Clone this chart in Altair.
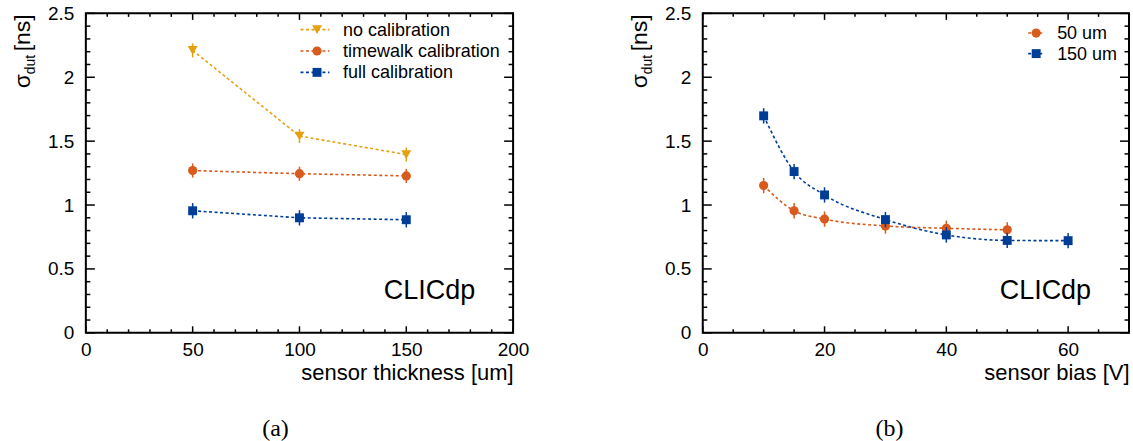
import altair as alt
import pandas as pd

FONT = "Liberation Sans"
SERIF = "Liberation Serif"

# ---------------- panel (a): sigma_dut vs sensor thickness ----------------
thickness_um = [50, 100, 150]
sigma_nocal = [2.21, 1.54, 1.395]
err_nocal = [0.055, 0.055, 0.055]
sigma_timewalk = [1.27, 1.245, 1.228]
err_timewalk = [0.055, 0.055, 0.055]
sigma_full = [0.955, 0.90, 0.885]
err_full = [0.06, 0.06, 0.06]
labels_a = ["no calibration", "timewalk calibration", "full calibration"]

# ---------------- panel (b): sigma_dut vs sensor bias ----------------
bias_50um = [10, 15, 20, 30, 40, 50]
sigma_50um = [1.152, 0.955, 0.89, 0.836, 0.818, 0.806]
err_50um = [0.06, 0.06, 0.06, 0.06, 0.06, 0.06]
bias_150um = [10, 15, 20, 30, 40, 50, 60]
sigma_150um = [1.698, 1.262, 1.079, 0.886, 0.766, 0.723, 0.721]
err_150um = [0.06, 0.06, 0.06, 0.06, 0.06, 0.06, 0.06]
labels_b = ["50 um", "150 um"]

# ---------------- tick positions ----------------
a_x_major = [0, 50, 100, 150, 200]
a_x_minor = [10, 20, 30, 40, 60, 70, 80, 90, 110, 120, 130, 140, 160, 170, 180, 190]
b_x_major = [0, 20, 40, 60]
b_x_minor = [5, 10, 15, 25, 30, 35, 45, 50, 55, 65]
y_major = [0, 0.5, 1, 1.5, 2, 2.5]
y_minor = [0.1, 0.2, 0.3, 0.4, 0.6, 0.7, 0.8, 0.9, 1.1, 1.2, 1.3, 1.4,
           1.6, 1.7, 1.8, 1.9, 2.1, 2.2, 2.3, 2.4]

GOLD = "#e5a00f"
ORANGE = "#d85a1d"
BLUE = "#003d96"

H = 320


def one_row(**kw):
    return pd.DataFrame({k: [v] for k, v in kw.items()} or {"k": [0]})


def panel(series, x_dom, x_major, x_minor, x_title, W, interp, legend, caption, caption_x, right_extra):
    xs = alt.Scale(domain=x_dom, nice=False, zero=False)
    ys = alt.Scale(domain=[0, 2.5], nice=False, zero=False)
    x_axis = alt.Axis(values=x_major, format="~r", ticks=False, domain=False, grid=False,
                      labelFont=FONT, labelFontSize=19, labelColor="black", labelPadding=8,
                      labelFlush=False, labelOverlap=False, title=x_title, titleFont=FONT,
                      titleFontSize=22, titleFontWeight="normal", titleColor="black",
                      titleAnchor="end", titlePadding=3)
    y_axis = alt.Axis(values=y_major, format="~r", ticks=False, domain=False, grid=False,
                      labelFont=FONT, labelFontSize=19, labelColor="black", labelPadding=12,
                      labelFlush=False, labelOverlap=False, title=None)

    def X(f):
        return alt.X(f, type="quantitative", scale=xs, axis=x_axis)

    def Y(f):
        return alt.Y(f, type="quantitative", scale=ys, axis=y_axis)

    layers = []
    # invisible extent so that the layout lands on the reference positions
    layers.append(alt.Chart(one_row(k=0)).mark_rule(strokeOpacity=0).encode(
        x=alt.value(-85), x2=alt.value(W + right_extra), y=alt.value(-12), y2=alt.value(429)))

    # inward ticks on all four sides
    ymaj = pd.DataFrame({"v": y_major})
    ymin = pd.DataFrame({"v": y_minor})
    xmaj = pd.DataFrame({"v": x_major})
    xmin = pd.DataFrame({"v": x_minor})
    for df, ln in ((ymaj, 9), (ymin, 4.5)):
        layers.append(alt.Chart(df).mark_rule(color="black", strokeWidth=1.5).encode(
            y=Y("v"), x=alt.value(0), x2=alt.value(ln)))
        layers.append(alt.Chart(df).mark_rule(color="black", strokeWidth=1.5).encode(
            y=Y("v"), x=alt.value(W - ln), x2=alt.value(W)))
    for df, ln in ((xmaj, 6.5), (xmin, 3.5)):
        layers.append(alt.Chart(df).mark_rule(color="black", strokeWidth=1.5).encode(
            x=X("v"), y=alt.value(H - ln), y2=alt.value(H)))
        layers.append(alt.Chart(df).mark_rule(color="black", strokeWidth=1.5).encode(
            x=X("v"), y=alt.value(0), y2=alt.value(ln)))

    # data series
    for name, xv, yv, ev, color, shape, size in series:
        df = pd.DataFrame({"x": xv, "y": yv, "e": ev})
        df["lo"] = df["y"] - df["e"]
        df["hi"] = df["y"] + df["e"]
        base = alt.Chart(df)
        layers.append(base.mark_line(color=color, strokeDash=[3, 2.5], strokeWidth=1.6,
                                     interpolate=interp).encode(x=X("x"), y=Y("y")))
        layers.append(base.mark_rule(color=color, strokeWidth=1.5).encode(
            x=X("x"), y=Y("lo"), y2="hi"))
        layers.append(base.mark_point(color=color, filled=True, opacity=1, shape=shape,
                                      size=size).encode(x=X("x"), y=Y("y")))

    # legend
    lx0, lx1, lmark, ltext, ly0, dy = legend
    for i, (name, xv, yv, ev, color, shape, size) in enumerate(series):
        yy = ly0 + i * dy
        d = one_row(label=name)
        layers.append(alt.Chart(d).mark_rule(color=color, strokeDash=[3, 2.5], strokeWidth=1.6).encode(
            x=alt.value(lx0), x2=alt.value(lx1), y=alt.value(yy)))
        layers.append(alt.Chart(d).mark_point(color=color, filled=True, opacity=1, shape=shape,
                                              size=size).encode(x=alt.value(lmark), y=alt.value(yy)))
        layers.append(alt.Chart(d).mark_text(align="left", baseline="middle", font=FONT, fontSize=18,
                                             color="black").encode(
            x=alt.value(ltext), y=alt.value(yy + 1), text="label:N"))

    # CLICdp label
    layers.append(alt.Chart(one_row(t="CLICdp")).mark_text(
        align="right", baseline="alphabetic", font=FONT, fontSize=27, color="black").encode(
        x=alt.value(W - 38), y=alt.value(286), text="t:N"))

    # y-axis title: sigma with subscript "dut" and [ns]
    layers.append(alt.Chart(one_row(t="σ")).mark_text(
        angle=270, align="left", baseline="alphabetic", font=FONT, fontSize=23, color="black").encode(
        x=alt.value(-56), y=alt.value(75), text="t:N"))
    layers.append(alt.Chart(one_row(t="dut")).mark_text(
        angle=270, align="left", baseline="alphabetic", font=FONT, fontSize=14, color="black").encode(
        x=alt.value(-51), y=alt.value(61), text="t:N"))
    layers.append(alt.Chart(one_row(t="[ns]")).mark_text(
        angle=270, align="right", baseline="alphabetic", font=FONT, fontSize=23, color="black").encode(
        x=alt.value(-56), y=alt.value(1), text="t:N"))

    # caption
    layers.append(alt.Chart(one_row(t=caption)).mark_text(
        align="center", baseline="alphabetic", font=SERIF, fontSize=24, color="black").encode(
        x=alt.value(caption_x), y=alt.value(423), text="t:N"))

    return alt.layer(*layers).properties(width=W, height=H)


series_a = [
    (labels_a[0], thickness_um, sigma_nocal, err_nocal, GOLD, "triangle-down", 100),
    (labels_a[1], thickness_um, sigma_timewalk, err_timewalk, ORANGE, "circle", 85),
    (labels_a[2], thickness_um, sigma_full, err_full, BLUE, "square", 80),
]
series_b = [
    (labels_b[0], bias_50um, sigma_50um, err_50um, ORANGE, "circle", 85),
    (labels_b[1], bias_150um, sigma_150um, err_150um, BLUE, "square", 80),
]

Wa = 428
Wb = 427
pa = panel(series_a, [0, 200], a_x_major, a_x_minor, "sensor thickness [um]", Wa, "linear",
           (215, 244, 231.6, 257.7, 16.3, 21.4), "(a)", 190, 0)
pb = panel(series_b, [0, 70], b_x_major, b_x_minor, "sensor bias [V]", Wb, "monotone",
           (326, 342, 334, 355, 19.7, 20.6), "(b)", 187, 3)

chart = alt.hconcat(pa, pb, spacing=190, bounds="flush").properties(
    padding=0, background="white"
).configure_view(stroke="black", strokeWidth=2)

chart.save("out.html", embed_options={"renderer": "svg", "actions": False})
